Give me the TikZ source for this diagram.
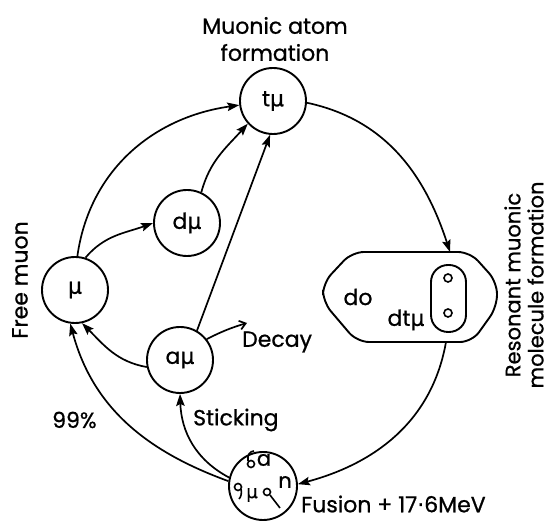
\documentclass[tikz,border=0pt]{standalone}
\usepackage{fontspec}
\setmainfont{Poppins}[FakeBold=0.8]
\newfontfamily\gkfont{DejaVu Sans}[FakeBold=0.6]
\usetikzlibrary{arrows.meta}
\newcommand\mym{{\gkfont μ}}
\newcommand\mdot{{\gkfont ·}}
\begin{document}
\begin{tikzpicture}[x=1pt,y=1pt,
  stn/.style={circle,draw,line width=1.9pt,minimum size=66pt,inner sep=0pt,
              font=\fontsize{22}{26}\selectfont},
  conn/.style={line width=1.7pt,-{Stealth[length=12pt,width=8.5pt,inset=2pt]}},
  lbl/.style={font=\fontsize{22}{27}\selectfont,inner sep=0pt,align=center},
  thin/.style={line width=1.6pt},
]
\useasboundingbox (0,0) rectangle (552,521);

% muonic states
\node[stn] (tmu) at (273,420) {t\mym};
\node[stn] (dmu) at (187,298) {d\mym};
\node[stn] (mu)  at (75,231)  {\mym};
\node[stn] (amu) at (180,161) {a\mym};
\node[stn,minimum size=68pt] (fus) at (263,35) {};

% fusion products inside the circle
\node[inner sep=0pt,font=\fontsize{21}{22}\selectfont] (fa) at (264,61) {a};
\draw[thin] (251,57) circle (3.5);
\draw[thin] (248,60) .. controls (247,66) and (250,70) .. (254,70);
\node[inner sep=0pt,font=\fontsize{21}{22}\selectfont] (fn) at (285,39) {n};
\draw[thin] (238,34) circle (3.5);
\draw[thin] (241,32) .. controls (242,28) and (241,24) .. (239,22);
\node[inner sep=0pt,font=\fontsize{18}{19}\selectfont] (fm) at (252,26) {\mym};
\draw[thin] (267,29) circle (3.5);
\draw[thin] (270,26) -- (280,13);

% resonant muonic molecule
\draw[line width=1.9pt,rounded corners=12pt]
  (352,269) -- (470,269) -- (497,239) -- (497,214) -- (472,179)
  -- (357,179) -- (323,219) -- (323,238) -- cycle;
\draw[line width=1.9pt,rounded corners=17pt] (431,189) rectangle (466,256);
\draw[thin] (448,243) circle (4);
\draw[thin] (448,208) circle (4);
\node[lbl] (do) at (358,224) {do};
\node[lbl] (dtm) at (406,201) {dt\mym};
\coordinate (moltop) at (450,269);
\coordinate (molbot) at (446,179);

% labels
\node[lbl] (title) at (275,482) {Muonic atom\\formation};
\node[lbl,rotate=90] (free) at (20,241) {Free muon};
\node[lbl,rotate=90,font=\fontsize{21}{23}\selectfont] (res) at (524,236)
  {Resonant muonic\\molecule formation};
\node[lbl,anchor=west] (decay) at (242,179) {Decay};
\node[lbl,anchor=west] (stick) at (193,101) {Sticking};
\node[lbl,anchor=west] (pct) at (52,101) {99\%};
\node[lbl,anchor=west] (fusion) at (301,17) {Fusion + 17\mdot6MeV};
\coordinate (dk) at (247,198);

% connectors
\draw[conn] (mu.86) to[out=82,in=188] (tmu.187);
\draw[conn] (mu.72) to[out=50,in=200] (dmu.180);
\draw[conn] (dmu.65) to[out=75,in=228] (tmu.222);
\draw[conn] (amu.60) -- (tmu.265);
\draw[conn] (tmu.-3) to[out=-12,in=108] (moltop);
\draw[conn] (molbot) to[out=-100,in=15] (fus.3);
\draw[conn] (fus.172) to[out=160,in=-75] (mu.262);
\draw[conn] (fus.166) to[out=152,in=-88] (amu.270);
\draw[conn] (amu.192) to[out=170,in=-45] (mu.282);
\draw[line width=1.7pt,-{Straight Barb[length=6pt,width=9pt]}] (amu.38) to[bend left=5] (dk);
\end{tikzpicture}
\end{document}
